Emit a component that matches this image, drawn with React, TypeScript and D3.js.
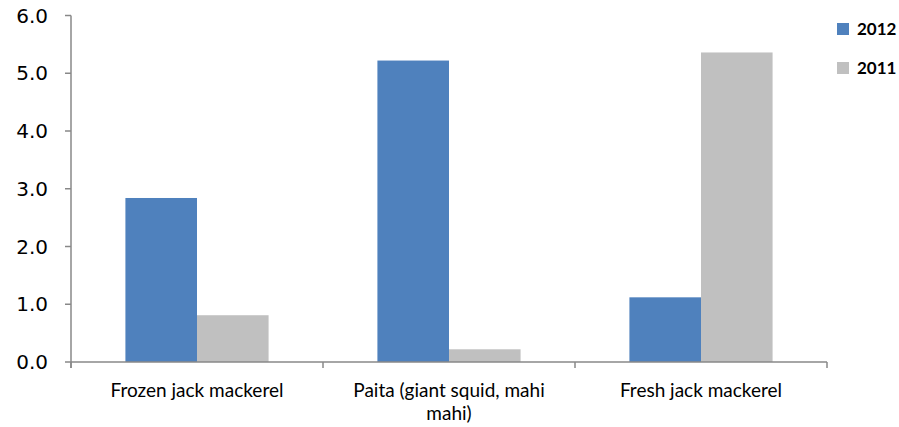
import * as d3 from "d3";

const categories = ["Frozen jack mackerel", "Paita (giant squid, mahi mahi)", "Fresh jack mackerel"];
const labelLines = [["Frozen jack mackerel"], ["Paita (giant squid, mahi", "mahi)"], ["Fresh jack mackerel"]];
const series = ["2012", "2011"];
const values2012 = [2.84, 5.22, 1.12];
const values2011 = [0.81, 0.22, 5.36];
const yTicks = [0, 1, 2, 3, 4, 5, 6];
const colors = ["#4F81BD", "#C0C0C0"];

export default function App() {
  const width = 899;
  const height = 427;
  const left = 71;
  const right = 827;
  const top = 15.5;
  const bottom = 362;

  const x = d3.scaleBand(categories, [left, right]).paddingInner(0).paddingOuter(0);
  const inner = d3.scaleBand(series, [0, x.bandwidth()]).paddingOuter(0.76).paddingInner(0);
  const y = d3.scaleLinear([0, 6], [bottom, top]);
  const data = [values2012, values2011];
  const axisColor = "#888888";

  return (
    <svg width={width} height={height} style={{ position: "absolute", left: 0, top: 0 }}>
      {/* bars */}
      {categories.map((c, i) => (
        <g key={c} transform={`translate(${x(c)},0)`}>
          {series.map((s, j) => (
            <rect
              key={s}
              x={inner(s)}
              y={y(data[j][i])}
              width={inner.bandwidth()}
              height={y(0) - y(data[j][i])}
              fill={colors[j]}
            />
          ))}
        </g>
      ))}

      {/* y axis */}
      <line x1={left} x2={left} y1={top} y2={bottom + 6} stroke={axisColor} strokeWidth={1.5} />
      {yTicks.map((t) => (
        <g key={t}>
          <line x1={left - 6} x2={left} y1={y(t)} y2={y(t)} stroke={axisColor} strokeWidth={1.5} />
          <text
            x={48}
            y={y(t)}
            dy="0.36em"
            textAnchor="end"
            fontFamily="DejaVu Sans"
            fontSize={20}
            fill="#000"
          >
            {t.toFixed(1)}
          </text>
        </g>
      ))}

      {/* x axis */}
      <line x1={left} x2={right} y1={bottom} y2={bottom} stroke={axisColor} strokeWidth={1.5} />
      {[...categories.map((c) => x(c)!), right].map((px, i) => (
        <line key={i} x1={px} x2={px} y1={bottom} y2={bottom + 6} stroke={axisColor} strokeWidth={1.5} />
      ))}
      {categories.map((c, i) => (
        <text
          key={c}
          x={x(c)! + x.bandwidth() / 2}
          y={397}
          textAnchor="middle"
          fontFamily="Lato"
          fontSize={19}
          fill="#000"
        >
          {labelLines[i].map((line, k) => (
            <tspan key={k} x={x(c)! + x.bandwidth() / 2} dy={k === 0 ? 0 : 23}>
              {line}
            </tspan>
          ))}
        </text>
      ))}

      {/* legend */}
      {series.map((s, j) => (
        <g key={s} transform={`translate(837,${23 + j * 39})`}>
          <rect width={12} height={12} fill={colors[j]} />
          <text x={20} y={12} fontFamily="Lato" fontWeight="bold" fontSize={17} fill="#000">
            {s}
          </text>
        </g>
      ))}
    </svg>
  );
}
